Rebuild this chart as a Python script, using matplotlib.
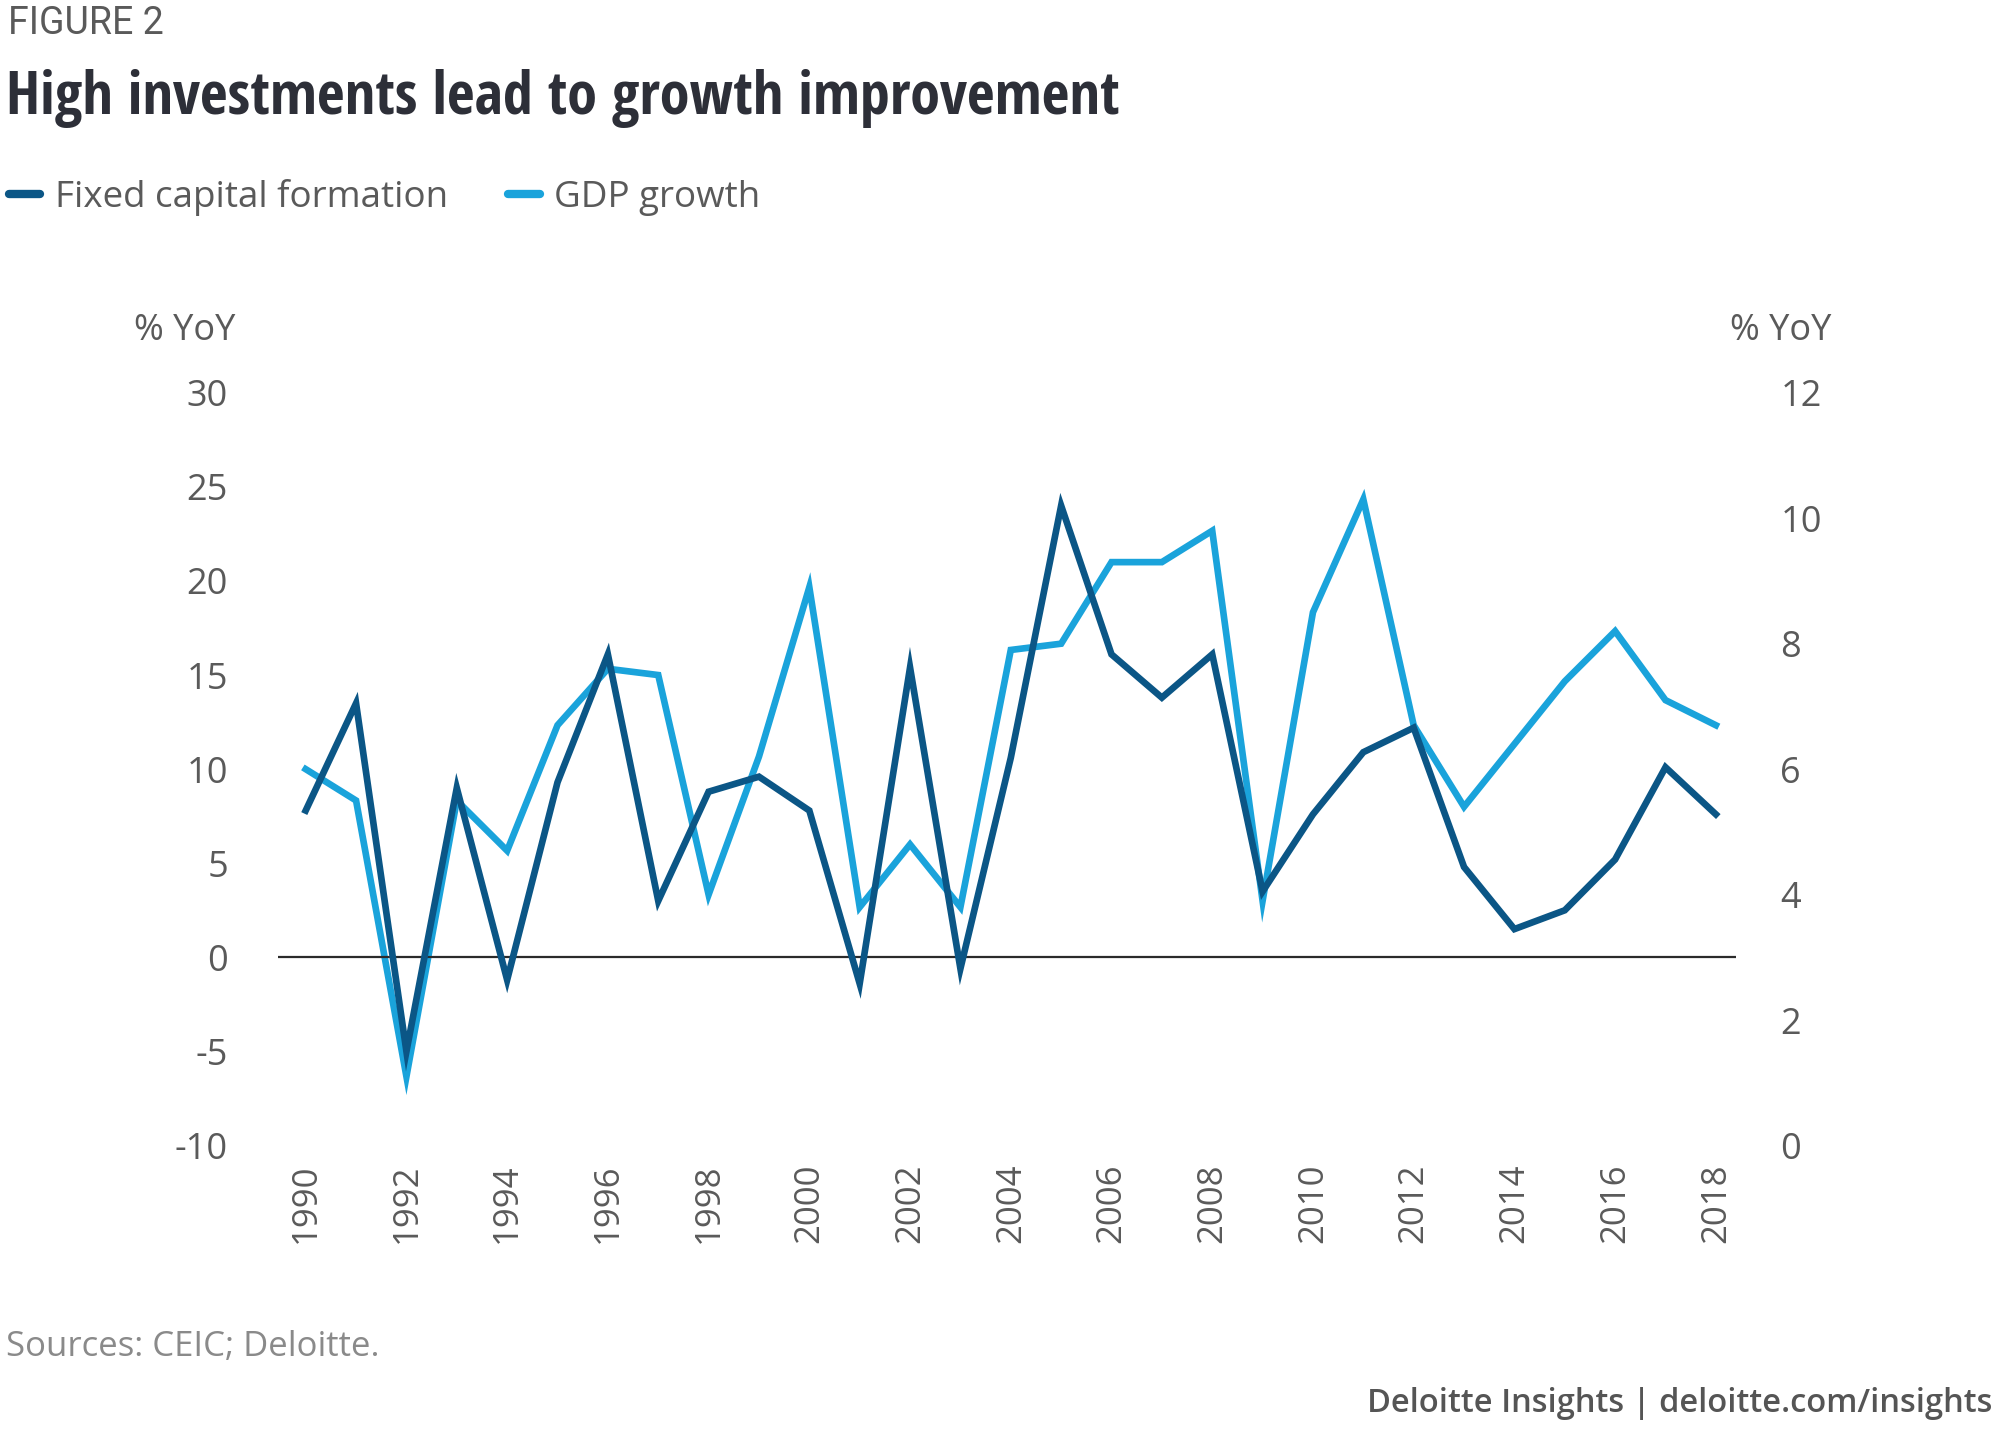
import numpy as np
import matplotlib.pyplot as plt
from matplotlib.lines import Line2D

years = list(range(1990, 2019))
fixed_capital = [7.8, 13.5, -5.0, 9.0, -1.2, 9.3, 16.1, 3.0, 8.8, 9.6, 7.8, -1.4, 15.4, -0.6,
                 10.6, 24.0, 16.1, 13.8, 16.1, 3.5, 7.6, 10.9, 12.2, 4.8, 1.5, 2.5, 5.2, 10.1, 7.6]
gdp_growth = [6.0, 5.5, 1.1, 5.5, 4.7, 6.7, 7.6, 7.5, 4.0, 6.2, 8.9, 3.8, 4.8, 3.8,
              7.9, 8.0, 9.3, 9.3, 9.8, 3.9, 8.5, 10.3, 6.7, 5.4, 6.4, 7.4, 8.2, 7.1, 6.7]
left_ticks = [-10, -5, 0, 5, 10, 15, 20, 25, 30]
right_ticks = [0, 2, 4, 6, 8, 10, 12]
year_ticks = list(range(1990, 2019, 2))

dark = '#0b5686'
light = '#1aa3db'
grey = '#5a5a5a'
plt.rcParams['font.family'] = ['Open Sans', 'DejaVu Sans']
narrow = ['Open Sans Condensed', 'DejaVu Sans']

fig = plt.figure(figsize=(20, 14.44), dpi=100)
ax = fig.add_axes([0.139, 0.2067, 0.729, 0.5213])
ax2 = ax.twinx()

ax.plot(years, fixed_capital, color=dark, lw=4.8, solid_joinstyle='miter', zorder=3)
ax2.plot(years, gdp_growth, color=light, lw=4.8, solid_joinstyle='miter', zorder=2)
ax.axhline(0, color='#2b2b2b', lw=1.6, zorder=1)

ax.set_xlim(1989.45, 2018.4)
ax.set_ylim(-10, 30)
ax2.set_ylim(0, 12)
ax.set_yticks(left_ticks)
ax.set_yticklabels([str(t) for t in left_ticks])
ax2.set_yticks(right_ticks)
ax.set_xticks(year_ticks)
ax.set_xticklabels([str(y) for y in year_ticks], rotation=90)

for a in (ax, ax2):
    for s in a.spines.values():
        s.set_visible(False)
    a.tick_params(length=0, labelsize=26, labelcolor=grey)
ax.tick_params(axis='y', pad=36)
ax2.tick_params(axis='y', pad=32)
ax.tick_params(axis='x', pad=13, labelsize=25)
ax.set_zorder(ax2.get_zorder() + 1)
ax.patch.set_visible(False)

fig.text(0.067, 0.771, '% YoY', fontsize=26, color=grey, va='center')
fig.text(0.865, 0.771, '% YoY', fontsize=26, color=grey, va='center')

fig.text(0.004, 0.9835, 'FIGURE 2', fontsize=27, color=grey, va='center',
         family=['Roboto', 'DejaVu Sans'])
fig.text(0.003, 0.932, 'High investments lead to growth improvement', fontsize=43.5,
         color='#2d2f38', weight='bold', va='center',
         family=narrow, stretch='condensed')

handles = [Line2D([], [], color=dark, lw=6, solid_capstyle='round'),
           Line2D([], [], color=light, lw=6, solid_capstyle='round')]
fig.legend(handles, ['Fixed capital formation', 'GDP growth'], loc='center left',
           bbox_to_anchor=(-0.012, 0.863), ncol=2, frameon=False, fontsize=26.5,
           handlelength=0.85, handletextpad=0.4, columnspacing=1.63, labelcolor=grey)

fig.text(0.003, 0.067, 'Sources: CEIC; Deloitte.', fontsize=25, color='#8a8a8a', va='center')
fig.text(0.996, 0.028, 'Deloitte Insights | deloitte.com/insights', fontsize=23.5,
         color='#555555', weight='semibold', ha='right', va='center')

fig.savefig('out.png', dpi=100, facecolor='white')
